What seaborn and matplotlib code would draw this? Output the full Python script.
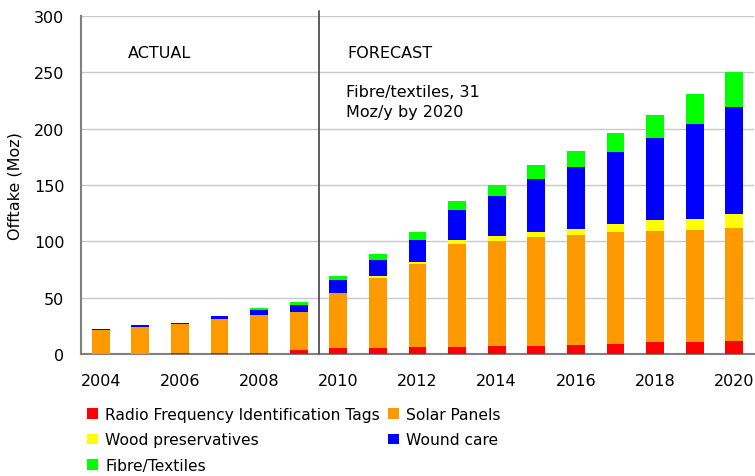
"""Silver offtake by end use: actual (2004-2009) and forecast (2010-2020)."""
import matplotlib

matplotlib.use("Agg")
import matplotlib.pyplot as plt
import numpy as np
import seaborn as sns
from matplotlib.patches import Patch
from matplotlib.ticker import FixedLocator

years = [str(y) for y in range(2004, 2021)]

# values (Moz)
rfid = [0.3, 0.3, 1.0, 1.0, 1.0, 3.5, 5.0, 5.0, 6.0, 6.0, 7.0, 7.0, 8.0, 9.0, 10.5, 10.5, 11.5]
solar = [21.0, 24.0, 25.8, 30.0, 33.7, 34.0, 49.0, 62.5, 74.0, 92.0, 93.5, 97.0, 98.0, 99.0, 99.0, 99.5, 100.5]
wood = [0.0, 0.0, 0.0, 0.0, 0.0, 0.0, 0.4, 2.0, 2.0, 3.5, 4.5, 4.5, 5.0, 7.0, 9.0, 10.0, 12.0]
wound = [1.0, 1.8, 0.9, 2.7, 4.4, 6.0, 11.5, 14.0, 19.5, 26.0, 35.0, 47.0, 55.0, 64.0, 73.0, 84.0, 95.0]
fibre = [0.0, 0.0, 0.0, 0.0, 1.8, 2.7, 3.5, 5.0, 6.5, 8.0, 10.0, 12.5, 14.0, 17.0, 21.0, 26.5, 31.0]

series = [
    ("Radio Frequency Identification Tags", rfid, "#FF0000"),
    ("Solar Panels", solar, "#FF9900"),
    ("Wood preservatives", wood, "#FFFF00"),
    ("Wound care", wound, "#0000FF"),
    ("Fibre/Textiles", fibre, "#00FF00"),
]

sns.set_style("white")
plt.rcParams["font.family"] = ["DejaVu Sans"]
plt.rcParams["text.color"] = "black"
plt.rcParams["xtick.labelcolor"] = "black"
plt.rcParams["ytick.labelcolor"] = "black"
plt.rcParams["axes.labelcolor"] = "black"
FS = 11.5

fig = plt.figure(figsize=(7.55, 4.77), dpi=100)
ax = fig.add_axes([81 / 755, 122 / 477, 673 / 755, 338 / 477])

# stacked bars: draw cumulative totals from the top layer down
cum = np.cumsum([s[1] for s in series], axis=0)
for i in range(len(series) - 1, -1, -1):
    sns.barplot(x=years, y=cum[i], color=series[i][2], saturation=1,
                width=0.45, linewidth=0, ax=ax, zorder=3)

ax.set_xlim(-0.5, len(years) - 0.5)
ax.set_ylim(0, 300)
ax.set_yticks(range(0, 301, 50))
ax.yaxis.grid(True, color="#C8C8C8", lw=1, zorder=0)
ax.set_axisbelow(True)

even = [i for i, y in enumerate(years) if int(y) % 2 == 0]
ax.set_xticks(even)
ax.set_xticklabels([years[i] for i in even])
ax.xaxis.set_minor_locator(FixedLocator(np.arange(-0.5, len(years), 1.0)))
ax.tick_params(axis="x", which="major", length=0, pad=14, labelsize=FS)
ax.tick_params(axis="x", which="minor", length=5, width=1.5, color="#808080")
ax.tick_params(axis="y", length=5, width=1.2, color="#808080", labelsize=FS, pad=7)
ax.set_xlabel("")
ax.set_ylabel("Offtake (Moz)", fontsize=FS, labelpad=8)

sns.despine(ax=ax)
for side in ("left", "bottom"):
    ax.spines[side].set_color("#808080")
    ax.spines[side].set_linewidth(1.5)

# actual / forecast divider
ax.plot([5.5, 5.5], [0, 304], color="#505050", lw=1.3, clip_on=False, zorder=4)
ax.text(0.69, 268, "ACTUAL", fontsize=FS, va="center")
ax.text(6.24, 268, "FORECAST", fontsize=FS, va="center")
ax.text(6.19, 224, "Fibre/textiles, 31\nMoz/y by 2020", fontsize=FS, va="center",
        linespacing=1.4)

order = [0, 2, 4, 1, 3]
handles = [Patch(facecolor=series[i][2], edgecolor="none") for i in order]
labels = [series[i][0] for i in order]
fig.legend(handles, labels, loc="upper left", bbox_to_anchor=(81 / 755, 1 - 402 / 477),
           ncol=2, frameon=False, fontsize=11.2, handlelength=0.7, handleheight=0.7,
           handletextpad=0.45, labelspacing=0.66, columnspacing=0.5, borderaxespad=0)

fig.savefig("out.png", dpi=100)
